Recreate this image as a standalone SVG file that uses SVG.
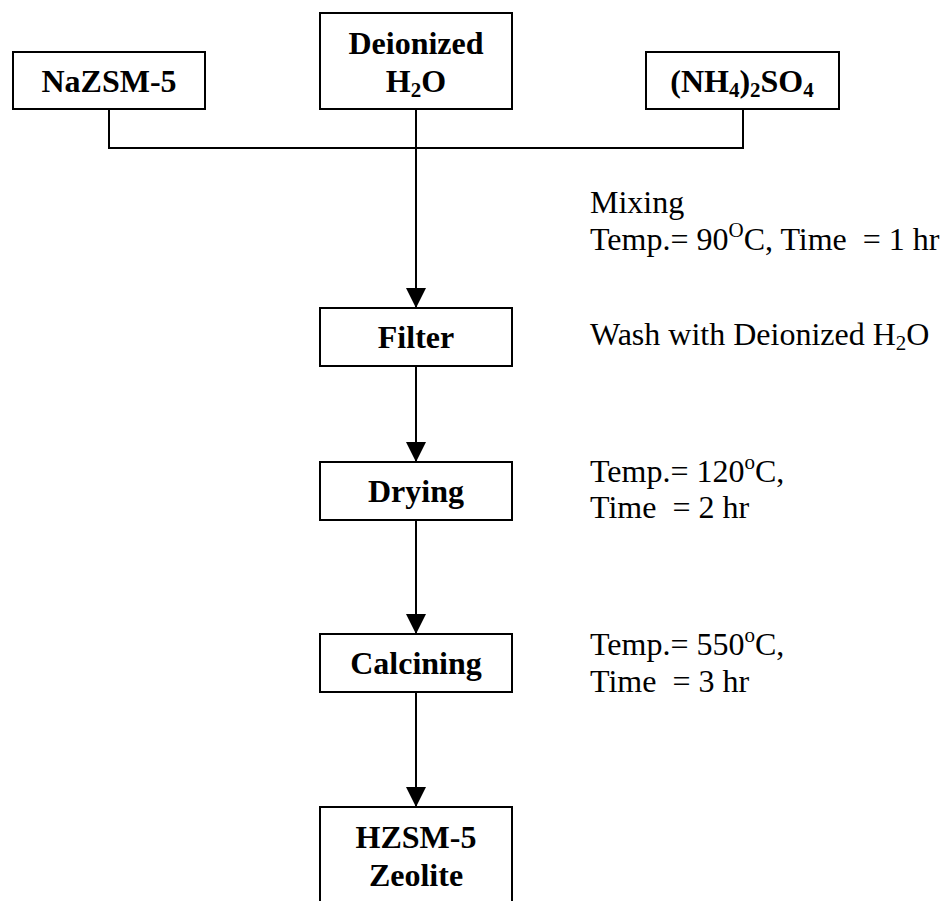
<svg xmlns="http://www.w3.org/2000/svg" width="947" height="901" viewBox="0 0 947 901">
<defs>
<style>
.box{fill:#fff;stroke:#000;stroke-width:2}
.lbl{font-family:"Liberation Serif","Times New Roman",serif;font-size:32px;font-weight:bold;text-anchor:middle;fill:#000}
.note{font-family:"Liberation Serif","Times New Roman",serif;font-size:32px;fill:#000}
.ln{fill:none;stroke:#000;stroke-width:2}
</style>
<marker id="ah" markerUnits="userSpaceOnUse" markerWidth="20" markerHeight="21" refX="20" refY="10" orient="auto">
<path d="M0,0 L20,10 L0,20 Z" fill="#000"/>
</marker>
</defs>
<rect width="947" height="901" fill="#fff"/>
<g id="connectors">
<path class="ln" d="M109,109 V148 H743 V109"/>
<path class="ln" d="M416,109 V308" marker-end="url(#ah)"/>
<path class="ln" d="M416,366 V462" marker-end="url(#ah)"/>
<path class="ln" d="M416,520 V634" marker-end="url(#ah)"/>
<path class="ln" d="M416,692 V807" marker-end="url(#ah)"/>
</g>
<g id="nazsm5">
<rect class="box" x="13" y="52" width="192" height="57"/>
<text class="lbl" x="109" y="92">NaZSM-5</text>
</g>
<g id="water">
<rect class="box" x="320" y="13" width="192" height="96"/>
<text class="lbl" x="416" y="54">Deionized</text>
<text class="lbl" x="416" y="92">H<tspan font-size="21" dy="5">2</tspan><tspan dy="-5">O</tspan></text>
</g>
<g id="ammonium">
<rect class="box" x="646" y="52" width="193" height="57"/>
<text class="lbl" x="742" y="92">(NH<tspan font-size="21" dy="5">4</tspan><tspan dy="-5">)</tspan><tspan font-size="21" dy="5">2</tspan><tspan dy="-5">SO</tspan><tspan font-size="21" dy="5">4</tspan></text>
</g>
<g id="filter">
<rect class="box" x="320" y="308" width="192" height="58"/>
<text class="lbl" x="416" y="348">Filter</text>
</g>
<g id="drying">
<rect class="box" x="320" y="462" width="192" height="58"/>
<text class="lbl" x="416" y="502">Drying</text>
</g>
<g id="calcining">
<rect class="box" x="320" y="634" width="192" height="58"/>
<text class="lbl" x="416" y="674">Calcining</text>
</g>
<g id="hzsm5">
<rect class="box" x="320" y="807" width="192" height="110"/>
<text class="lbl" x="416" y="848">HZSM-5</text>
<text class="lbl" x="416" y="886">Zeolite</text>
</g>
<g id="notes">
<text class="note" x="590" y="213">Mixing</text>
<text class="note" x="590" y="250" xml:space="preserve">Temp.= 90<tspan font-size="21" dy="-13">O</tspan><tspan dy="13">C, Time  = 1 hr</tspan></text>
<text class="note" x="590" y="345">Wash with Deionized H<tspan font-size="21" dy="5">2</tspan><tspan dy="-5">O</tspan></text>
<text class="note" x="590" y="482">Temp.= 120<tspan font-size="21" dy="-13">o</tspan><tspan dy="13">C,</tspan></text>
<text class="note" x="590" y="518" xml:space="preserve">Time  = 2 hr</text>
<text class="note" x="590" y="655">Temp.= 550<tspan font-size="21" dy="-13">o</tspan><tspan dy="13">C,</tspan></text>
<text class="note" x="590" y="692" xml:space="preserve">Time  = 3 hr</text>
</g>
</svg>
